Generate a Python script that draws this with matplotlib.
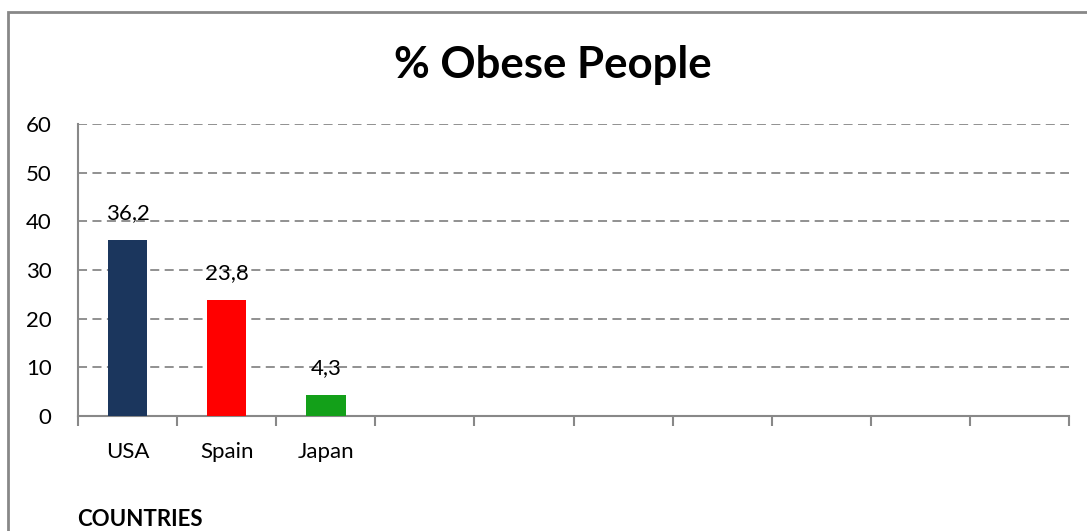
import matplotlib
matplotlib.use("Agg")
import matplotlib.pyplot as plt
from matplotlib.patches import Rectangle

categories = ["USA", "Spain", "Japan", "", "", "", "", "", "", ""]
values = [36.2, 23.8, 4.3]
value_labels = ["36,2", "23,8", "4,3"]
bar_colors = ["#1B365D", "#FF0000", "#13A019"]
yticks = [0, 10, 20, 30, 40, 50, 60]

plt.rcParams['font.family'] = ['Lato', 'DejaVu Sans']

W, H = 1087, 531
fig = plt.figure(figsize=(W / 100, H / 100), dpi=100)
ax = fig.add_axes([78 / W, 1 - 416 / H, (1069 - 78) / W, (416 - 124) / H])

# Figure border (left and top visible)
fig.patches.append(Rectangle((8 / W, -0.1), 1.2, (H - 12) / H + 0.1, transform=fig.transFigure,
                             fill=False, edgecolor="#888888", linewidth=2))

n = len(categories)
xs = list(range(len(values)))
ax.bar(xs, values, width=0.40, color=bar_colors, zorder=3)
for x, v, lab in zip(xs, values, value_labels):
    ax.annotate(lab, (x, v), xytext=(0, 19.5), textcoords="offset points",
                ha="center", va="center", fontsize=16, color="black")

ax.set_xlim(-0.5, n - 0.5)
ax.set_ylim(0, 60)
ax.set_yticks(yticks)
ax.set_yticklabels([str(t) for t in yticks], fontsize=16)
ax.tick_params(axis="y", length=0, pad=19)
ax.set_xticks([i - 0.5 for i in range(n + 1)], minor=False)
ax.set_xticklabels([])
ax.set_xticks(range(n), minor=True)
ax.set_xticklabels(categories, minor=True, fontsize=16)
ax.tick_params(axis="x", which="major", length=7, color="#888888", width=1.5, direction="out")
ax.tick_params(axis="x", which="minor", length=0, pad=19)

ax.yaxis.grid(True, linestyle=(0, (5, 3)), color="#888888", linewidth=1.3, zorder=0)
ax.set_axisbelow(True)
for s in ["top", "right"]:
    ax.spines[s].set_visible(False)
ax.spines["left"].set_color("#888888")
ax.spines["left"].set_linewidth(1.5)
ax.spines["bottom"].set_color("#888888")
ax.spines["bottom"].set_linewidth(1.5)

fig.text(553 / W, 1 - 65 / H, "% Obese People", ha="center", va="center",
         fontsize=31.5, fontweight="bold")
fig.text(77 / W, 1 - 520 / H, "COUNTRIES", ha="left", va="center",
         fontsize=16, fontweight="bold")

fig.savefig("out.png", dpi=100)
